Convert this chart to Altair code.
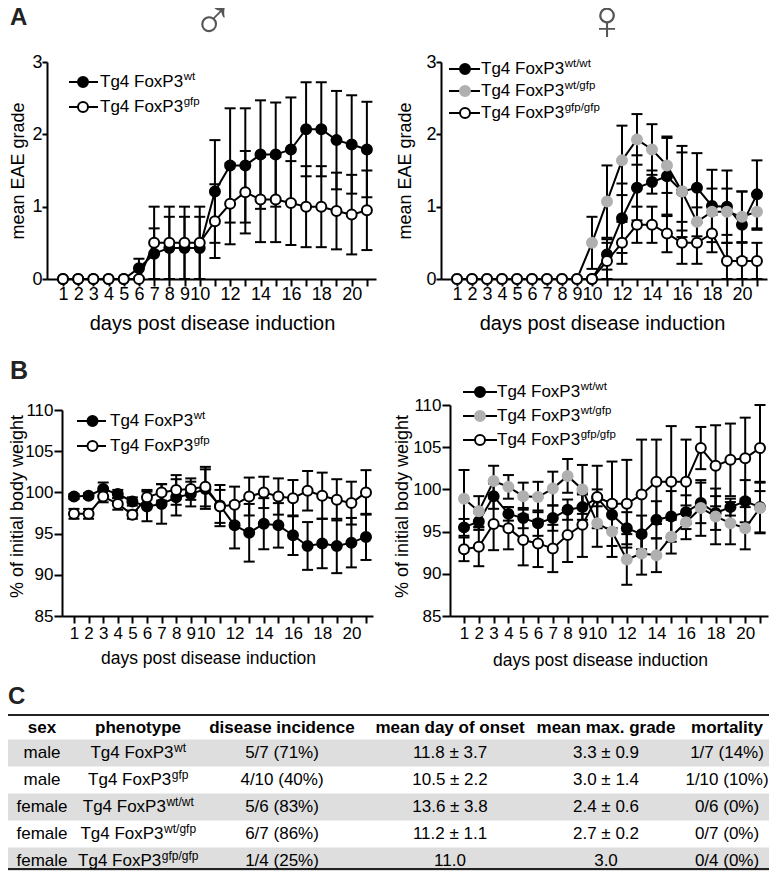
import altair as alt
import pandas as pd

# ---------------- data ----------------
days = list(range(1, 22))

# Panel A: mean EAE grade (mean, sem)
a_m_wt_mean = [0, 0, 0, 0, 0, 0.15, 0.35, 0.43, 0.43, 0.43, 1.21, 1.57, 1.57, 1.72, 1.72, 1.79, 2.07, 2.07, 1.92, 1.86, 1.79]
a_m_wt_sem = [0, 0, 0, 0, 0, 0.13, 0.35, 0.43, 0.43, 0.43, 0.71, 0.79, 0.79, 0.75, 0.72, 0.72, 0.65, 0.65, 0.68, 0.68, 0.66]
a_m_gfp_mean = [0, 0, 0, 0, 0, 0, 0.5, 0.5, 0.5, 0.5, 0.80, 1.04, 1.20, 1.10, 1.10, 1.05, 1.00, 1.00, 0.94, 0.89, 0.95]
a_m_gfp_sem = [0, 0, 0, 0, 0, 0, 0.5, 0.5, 0.5, 0.5, 0.51, 0.56, 0.57, 0.59, 0.59, 0.58, 0.56, 0.56, 0.53, 0.55, 0.55]

a_f_ww_mean = [0, 0, 0, 0, 0, 0, 0, 0, 0, 0, 0.34, 0.84, 1.26, 1.34, 1.42, 1.21, 1.26, 1.01, 1.00, 0.75, 1.17]
a_f_ww_sem = [0, 0, 0, 0, 0, 0, 0, 0, 0, 0, 0.21, 0.48, 0.45, 0.16, 0.55, 0.54, 0.48, 0.50, 0.50, 0.46, 0.47]
a_f_wg_mean = [0, 0, 0, 0, 0, 0, 0, 0, 0, 0.50, 1.07, 1.64, 1.93, 1.79, 1.57, 1.21, 0.79, 0.93, 0.93, 0.86, 0.93]
a_f_wg_sem = [0, 0, 0, 0, 0, 0, 0, 0, 0, 0.36, 0.50, 0.48, 0.35, 0.35, 0.38, 0.63, 0.20, 0.32, 0.32, 0.35, 0.25]
a_f_gg_mean = [0, 0, 0, 0, 0, 0, 0, 0, 0, 0, 0.25, 0.50, 0.75, 0.75, 0.63, 0.50, 0.50, 0.63, 0.25, 0.25, 0.25]
a_f_gg_sem = [0, 0, 0, 0, 0, 0, 0, 0, 0, 0, 0.25, 0.29, 0.25, 0.25, 0.26, 0.29, 0.29, 0.26, 0.25, 0.25, 0.25]

# Panel B: % of initial body weight (mean, sem)
b_m_wt_mean = [99.5, 99.6, 100.4, 99.8, 98.9, 98.3, 98.6, 99.4, 99.8, 100.4, 98.4, 96.0, 95.1, 96.2, 96.0, 94.8, 93.5, 93.8, 93.5, 93.9, 94.6]
b_m_wt_sem = [0.3, 0.3, 0.8, 0.5, 0.5, 1.8, 2.4, 2.2, 1.5, 2.4, 2.5, 2.8, 3.5, 3.1, 2.7, 2.4, 2.9, 3.0, 3.3, 3.0, 2.8]
b_m_gfp_mean = [97.4, 97.4, 99.5, 98.6, 97.3, 99.4, 100.0, 100.3, 100.4, 100.7, 98.3, 98.5, 99.5, 100.0, 99.5, 99.3, 100.2, 99.6, 99.1, 98.7, 100.0]
b_m_gfp_sem = [0.6, 0.6, 0.7, 0.7, 0.5, 0.9, 1.0, 1.8, 1.3, 2.4, 2.0, 2.2, 2.3, 1.9, 2.2, 2.2, 2.4, 2.8, 2.5, 2.6, 2.7]

b_f_ww_mean = [95.5, 96.2, 99.2, 97.1, 96.6, 96.0, 96.6, 97.6, 97.9, 99.0, 97.0, 95.4, 94.7, 96.4, 96.8, 97.3, 98.4, 97.2, 97.9, 98.6, 97.9]
b_f_ww_sem = [1.0, 1.0, 1.5, 0.8, 1.2, 1.5, 1.5, 1.2, 1.5, 1.0, 1.6, 1.9, 2.2, 2.2, 3.0, 2.0, 2.4, 2.0, 1.0, 2.5, 3.0]
b_f_wg_mean = [98.9, 97.4, 101.0, 100.3, 99.2, 99.1, 100.1, 101.6, 100.0, 96.0, 95.0, 91.7, 92.4, 92.2, 94.4, 96.1, 97.8, 96.8, 96.0, 95.4, 97.8]
b_f_wg_sem = [3.4, 1.8, 1.8, 1.4, 1.6, 1.8, 2.0, 2.0, 2.9, 2.8, 3.0, 3.0, 2.5, 2.0, 2.0, 2.0, 3.3, 3.3, 2.5, 2.5, 3.0]
b_f_gg_mean = [92.9, 93.2, 95.9, 95.4, 94.0, 93.6, 93.0, 94.6, 95.8, 99.1, 98.3, 98.3, 99.4, 100.9, 100.9, 100.9, 104.9, 102.8, 103.5, 103.7, 104.9]
b_f_gg_sem = [1.4, 2.3, 3.1, 2.5, 3.0, 2.8, 2.8, 3.2, 3.8, 3.7, 5.0, 5.2, 6.5, 5.0, 6.6, 5.0, 2.5, 4.8, 4.3, 4.8, 5.1]

genotype_base = "Tg4 FoxP3"
male_sups = ["wt", "gfp"]
female_sups = ["wt/wt", "wt/gfp", "gfp/gfp"]

# Panel C: table
tbl_headers = ["sex", "phenotype", "disease incidence", "mean day of onset", "mean max. grade", "mortality"]
tbl_sex = ["male", "male", "female", "female", "female"]
tbl_sup = ["wt", "gfp", "wt/wt", "wt/gfp", "gfp/gfp"]
tbl_incidence = ["5/7 (71%)", "4/10 (40%)", "5/6 (83%)", "6/7 (86%)", "1/4 (25%)"]
tbl_onset = ["11.8 ± 3.7", "10.5 ± 2.2", "13.6 ± 3.8", "11.2 ± 1.1", "11.0"]
tbl_grade = ["3.3 ± 0.9", "3.0 ± 1.4", "2.4 ± 0.6", "2.7 ± 0.2", "3.0"]
tbl_mortality = ["1/7 (14%)", "1/10 (10%)", "0/6 (0%)", "0/7 (0%)", "0/4 (0%)"]

# ---------------- styling / layout ----------------
FONT = "Liberation Sans"
W, H = 761, 863
GRAY = "#b0b0b0"
STYLES = {
    "black": {"fill": "black", "stroke": "black"},
    "gray": {"fill": GRAY, "stroke": GRAY},
    "open": {"fill": "white", "stroke": "black"},
}
PT_SIZE = 100
LABEL_EXPR = "(datum.value <= 10 || datum.value % 2 == 0) ? datum.label : ''"

# approximate Arial advance widths (per 1000 em) for superscript placement
CW = {"w": 722, "t": 278, "/": 278, "g": 556, "f": 278, "p": 556}
BASE_W = 4.891  # "Tg4 FoxP3" width per px of font size


def sup_width(s, fs):
    return sum(CW[c] for c in s) * fs / 1000.0


def make_panel(series, xdom, xrng, ydom, yrng, xax, yax):
    rows = []
    for name, mean, sem, _ in series:
        for d, m, s in zip(days, mean, sem):
            rows.append({"day": d, "series": name, "mean": m, "sem": s, "lo": m - s, "hi": m + s})
    df = pd.DataFrame(rows)
    xs = alt.Scale(domain=xdom, range=xrng, nice=False, zero=False)
    ys = alt.Scale(domain=ydom, range=yrng, nice=False, zero=False)
    X = alt.X("day:Q", scale=xs, axis=xax)
    errs, lines, pts = [], [], []
    for name, _, _, st in series:
        b = alt.Chart(df).transform_filter(alt.datum.series == name)
        eb = b.transform_filter("datum.sem > 0")
        errs.append(eb.mark_rule(color="black", strokeWidth=2).encode(
            x=X, y=alt.Y("lo:Q", scale=ys, axis=yax), y2="hi:Q"))
        errs.append(eb.mark_tick(orient="horizontal", size=11, thickness=2, color="black", opacity=1).encode(
            x=X, y=alt.Y("lo:Q", scale=ys, axis=yax)))
        errs.append(eb.mark_tick(orient="horizontal", size=11, thickness=2, color="black", opacity=1).encode(
            x=X, y=alt.Y("hi:Q", scale=ys, axis=yax)))
        lines.append(b.mark_line(color="black", strokeWidth=2).encode(
            x=X, y=alt.Y("mean:Q", scale=ys, axis=yax)))
        pts.append(b.mark_point(shape="circle", filled=True, size=PT_SIZE, opacity=1,
                                fill=STYLES[st]["fill"], stroke=STYLES[st]["stroke"], strokeWidth=2).encode(
            x=X, y=alt.Y("mean:Q", scale=ys, axis=yax)))
    return alt.layer(*errs, *lines, *pts)


def xaxis(title, tx, ty, offset, tsize, lsize, lpad):
    return alt.Axis(orient="bottom", offset=offset, values=days, labelExpr=LABEL_EXPR,
                    title=title, titleX=tx, titleY=ty, titleBaseline="middle", titleAlign="center",
                    titleFontSize=tsize, labelFontSize=lsize, tickSize=7, labelPadding=lpad,
                    labelOverlap=False, labelFlush=False)


def yaxis(title, vals, tx, ty, offset, lsize, tsize, tick, lpad):
    return alt.Axis(orient="left", offset=offset, values=vals,
                    title=title, titleX=tx, titleY=ty, titleBaseline="middle", titleAlign="center",
                    titleFontSize=tsize, labelFontSize=lsize, tickSize=tick, labelPadding=lpad,
                    labelOverlap=False, labelFlush=False)


one = pd.DataFrame({"k": [0]})


def legend_entry(xl1, xl2, xm, xt, y, style, sup, fs=17, sfs=11.5):
    st = STYLES[style]
    parts = [
        alt.Chart(one).mark_rule(color="black", strokeWidth=2).encode(
            x=alt.value(xl1), x2=alt.value(xl2), y=alt.value(y)),
        alt.Chart(one).mark_point(shape="circle", filled=True, size=PT_SIZE, opacity=1,
                                  fill=st["fill"], stroke=st["stroke"], strokeWidth=2).encode(
            x=alt.value(xm), y=alt.value(y)),
        alt.Chart(one).mark_text(text=genotype_base, font=FONT, fontSize=fs, align="left",
                                 baseline="middle", color="black").encode(x=alt.value(xt), y=alt.value(y)),
        alt.Chart(one).mark_text(text=sup, font=FONT, fontSize=sfs, align="left",
                                 baseline="middle", color="black").encode(
            x=alt.value(xt + BASE_W * fs + 0.5), y=alt.value(y - 5)),
    ]
    return parts


def text_label(txt, x, y, size, weight="normal", color="black", align="left", baseline="middle", font=FONT):
    return alt.Chart(one).mark_text(text=txt, font=font, fontSize=size, fontWeight=weight,
                                    color=color, align=align, baseline=baseline).encode(
        x=alt.value(x), y=alt.value(y))


# ---------------- panels ----------------
pA_left = make_panel(
    [("wt", a_m_wt_mean, a_m_wt_sem, "black"), ("gfp", a_m_gfp_mean, a_m_gfp_sem, "open")],
    [-0.05, 21.6], [39, 368], [0, 3], [271, 54],
    xaxis("days post disease induction", 204, 44, 271 - H, 20, 18, -1),
    yaxis("mean EAE grade", [0, 1, 2, 3], -29, 162.5, -39, 18, 18, 5, 0),
)
pA_right = make_panel(
    [("ww", a_f_ww_mean, a_f_ww_sem, "black"), ("wg", a_f_wg_mean, a_f_wg_sem, "gray"),
     ("gg", a_f_gg_mean, a_f_gg_sem, "open")],
    [-0.067, 21.67], [433, 759], [0, 3], [271, 54],
    xaxis("days post disease induction", 594, 44, 271 - H, 20, 18, -1),
    yaxis("mean EAE grade", [0, 1, 2, 3], -36, 162.5, -433, 18, 18, 5, 0),
)
pB_left = make_panel(
    [("wt", b_m_wt_mean, b_m_wt_sem, "black"), ("gfp", b_m_gfp_mean, b_m_gfp_sem, "open")],
    [0.18, 21.48], [54, 365], [85, 110], [608, 402],
    xaxis("days post disease induction", 200, 42, 608 - H, 17.5, 17, 2),
    yaxis("% of initial body weight", [85, 90, 95, 100, 105, 110], -44.5, 498, -54, 17, 18, 8, 1),
)
pB_right = make_panel(
    [("ww", b_f_ww_mean, b_f_ww_sem, "black"), ("wg", b_f_wg_mean, b_f_wg_sem, "gray"),
     ("gg", b_f_gg_mean, b_f_gg_sem, "open")],
    [0.054, 21.54], [442, 760], [85, 110], [608, 397],
    xaxis("days post disease induction", 592, 44, 608 - H, 17.5, 17, 2),
    yaxis("% of initial body weight", [85, 90, 95, 100, 105, 110], -48, 498, -442, 17, 18, 8, 1),
)

legends = []
for i, (sup, st) in enumerate(zip(male_sups, ["black", "open"])):
    legends += legend_entry(61, 90, 75, 92, 74 + 25 * i, st, sup)
for i, (sup, st) in enumerate(zip(female_sups, ["black", "gray", "open"])):
    legends += legend_entry(441, 472, 457, 473, 61 + 22 * i, st, sup)
for i, (sup, st) in enumerate(zip(male_sups, ["black", "open"])):
    legends += legend_entry(69, 98, 84.5, 102, 413 + 25 * i, st, sup)
for i, (sup, st) in enumerate(zip(female_sups, ["black", "gray", "open"])):
    legends += legend_entry(455, 489, 472, 489, 384 + 24 * i, st, sup)

labels = [
    text_label("A", 2, 10, 24, "bold", "#222"),
    text_label("B", 2, 363, 25, "bold", "#222"),
    text_label("C", 0, 689, 24, "bold", "#222"),
    text_label("\u2642", 205, 14, 56, "normal", "#555", "center", "middle", FONT),
    text_label("\u2640", 599, 14, 56, "normal", "#555", "center", "middle", FONT),
]

# ---------------- table ----------------
col_cx = [34, 130, 274, 442, 598, 719]
TFS = 17
SFS = 12
tbl = pd.DataFrame({
    "row": [1, 2, 3, 4, 5],
    "sex": tbl_sex,
    "base": [genotype_base] * 5,
    "sup": tbl_sup,
    "inc": tbl_incidence,
    "onset": tbl_onset,
    "grade": tbl_grade,
    "mort": tbl_mortality,
})
base_w = BASE_W * TFS
tbl["px"] = [col_cx[1] - (base_w + sup_width(s, SFS)) / 2 for s in tbl_sup]
tbl["sx"] = tbl["px"] + base_w + 0.5

ys_t = alt.Scale(domain=[1, 5], range=[745, 853], nice=False, zero=False)
Yt = alt.Y("row:Q", scale=ys_t, axis=None)
tparts = [
    alt.Chart(tbl).transform_filter("datum.row % 2 == 1").transform_calculate(
        top="datum.row - 0.5", bot="datum.row + 0.5").mark_rect(color="#dedede").encode(
        x=alt.value(0), x2=alt.value(W),
        y=alt.Y("top:Q", scale=ys_t, axis=None), y2="bot:Q"),
    alt.Chart(one).mark_rule(color="#222", strokeWidth=2).encode(
        x=alt.value(0), x2=alt.value(W), y=alt.value(707)),
    alt.Chart(one).mark_rule(color="#222", strokeWidth=2).encode(
        x=alt.value(0), x2=alt.value(W), y=alt.value(861)),
]
for cx, h in zip(col_cx, tbl_headers):
    tparts.append(text_label(h, cx, 720, TFS, "bold", "black", "center"))
for cx, field in zip([col_cx[0], col_cx[2], col_cx[3], col_cx[4], col_cx[5]],
                     ["sex", "inc", "onset", "grade", "mort"]):
    tparts.append(alt.Chart(tbl).mark_text(font=FONT, fontSize=TFS, align="center", baseline="middle",
                                           color="black").encode(
        x=alt.value(cx), y=Yt, text=f"{field}:N"))
tparts.append(alt.Chart(tbl).mark_text(font=FONT, fontSize=TFS, align="left", baseline="middle",
                                       color="black").encode(
    x=alt.X("px:Q", scale=None), y=Yt, text="base:N"))
tparts.append(alt.Chart(tbl).mark_text(font=FONT, fontSize=SFS, align="left", baseline="middle",
                                       color="black", dy=-5).encode(
    x=alt.X("sx:Q", scale=None), y=Yt, text="sup:N"))
table = alt.layer(*tparts)

chart = alt.layer(pA_left, pA_right, pB_left, pB_right, table, *legends, *labels).resolve_scale(
    x="independent", y="independent"
).properties(
    width=W, height=H, padding=0, autosize=alt.AutoSizeParams(type="none")
).configure_view(stroke=None).configure_axis(
    grid=False, domainColor="black", tickColor="black", labelColor="black", titleColor="black",
    labelFont=FONT, titleFont=FONT, titleFontWeight="normal", domainWidth=2, tickWidth=2,
)

chart.save("out.html", embed_options={"renderer": "svg", "actions": False})
